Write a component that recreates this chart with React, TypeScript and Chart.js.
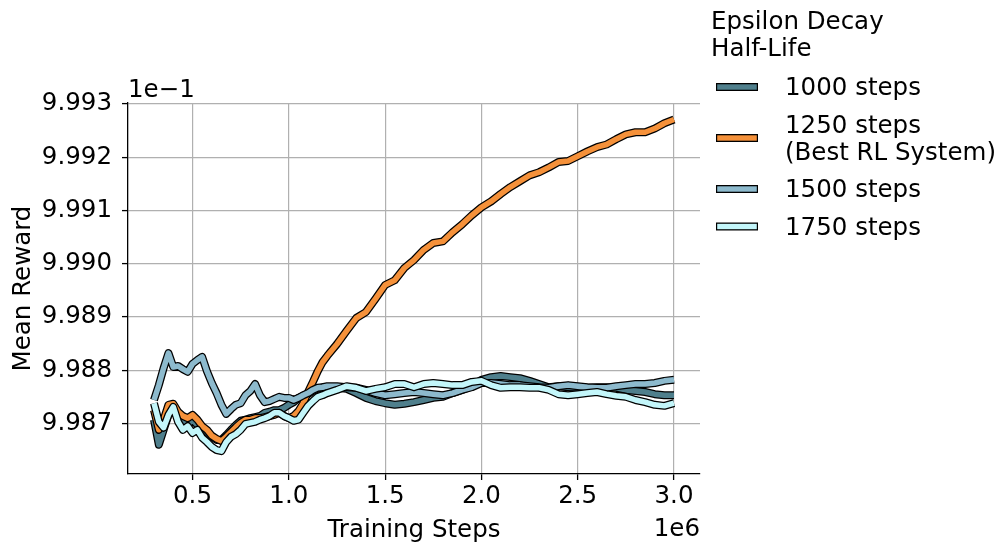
import React, { useEffect, useRef } from "react";
import { Chart, registerables } from "chart.js";

Chart.register(...registerables);

// Training steps (units of 1e6)
const steps = [
  0.300, 0.325, 0.350, 0.375, 0.400, 0.425, 0.450, 0.475, 0.500, 0.525,
  0.550, 0.575, 0.600, 0.625, 0.650, 0.675, 0.700, 0.725, 0.750, 0.775,
  0.800, 0.825, 0.850, 0.875, 0.900, 0.925, 0.950, 0.975, 1.000, 1.025,
  1.050, 1.075, 1.100, 1.125, 1.150, 1.175, 1.200,
  1.25, 1.30, 1.35, 1.40, 1.45, 1.50, 1.55, 1.60, 1.65, 1.70,
  1.75, 1.80, 1.85, 1.90, 1.95, 2.00, 2.05, 2.10, 2.15, 2.20,
  2.25, 2.30, 2.35, 2.40, 2.45, 2.50, 2.55, 2.60, 2.65, 2.70,
  2.75, 2.80, 2.85, 2.90, 2.95, 3.00,
];

// Mean reward (units of 1e-1)
const reward1000 = [
  9.98707, 9.98660, 9.98688, 9.98716, 9.98729, 9.98710, 9.98707, 9.98697, 9.98707, 9.98697,
  9.98692, 9.98684, 9.98675, 9.98669, 9.98669, 9.98678, 9.98688, 9.98697, 9.98705, 9.98707,
  9.98710, 9.98712, 9.98714, 9.98720, 9.98722, 9.98725, 9.98725, 9.98729, 9.98735, 9.98740,
  9.98748, 9.98752, 9.98755, 9.98761, 9.98765, 9.98768, 9.98768,
  9.98767, 9.98765, 9.98757, 9.98748, 9.98742, 9.98738, 9.98735, 9.98737, 9.98740, 9.98744,
  9.98748, 9.98750, 9.98757, 9.98763, 9.98770, 9.98782, 9.98787, 9.98789, 9.98787, 9.98785,
  9.98780, 9.98774, 9.98768, 9.98770, 9.98768, 9.98767, 9.98767, 9.98768, 9.98768, 9.98767,
  9.98763, 9.98761, 9.98759, 9.98755, 9.98753, 9.98753,
];

const reward1250 = [
  9.98725, 9.98688, 9.98707, 9.98735, 9.98737, 9.98722, 9.98714, 9.98710, 9.98716, 9.98707,
  9.98695, 9.98688, 9.98677, 9.98671, 9.98667, 9.98675, 9.98684, 9.98693, 9.98701, 9.98707,
  9.98707, 9.98710, 9.98710, 9.98712, 9.98714, 9.98716, 9.98720, 9.98714, 9.98710, 9.98714,
  9.98723, 9.98738, 9.98759, 9.98778, 9.98798, 9.98815, 9.98827,
  9.98849, 9.98874, 9.98898, 9.98909, 9.98934, 9.98960, 9.98969, 9.98992, 9.99007, 9.99026,
  9.99039, 9.99042, 9.99059, 9.99074, 9.99091, 9.99106, 9.99117, 9.99131, 9.99144, 9.99155,
  9.99166, 9.99172, 9.99181, 9.99191, 9.99193, 9.99202, 9.99211, 9.99219, 9.99224, 9.99234,
  9.99243, 9.99247, 9.99247, 9.99254, 9.99264, 9.99271,
];

const reward1500 = [
  9.98744, 9.98772, 9.98804, 9.98832, 9.98806, 9.98808, 9.98802, 9.98797, 9.98812, 9.98819,
  9.98825, 9.98798, 9.98776, 9.98757, 9.98735, 9.98718, 9.98727, 9.98735, 9.98738, 9.98753,
  9.98761, 9.98774, 9.98753, 9.98740, 9.98742, 9.98746, 9.98750, 9.98748, 9.98748, 9.98744,
  9.98748, 9.98753, 9.98757, 9.98763, 9.98767, 9.98768, 9.98770,
  9.98770, 9.98768, 9.98767, 9.98763, 9.98757, 9.98753, 9.98755, 9.98757, 9.98759, 9.98757,
  9.98755, 9.98753, 9.98757, 9.98763, 9.98768, 9.98776, 9.98776, 9.98774, 9.98772, 9.98772,
  9.98770, 9.98768, 9.98767, 9.98770, 9.98772, 9.98770, 9.98768, 9.98767, 9.98767, 9.98770,
  9.98772, 9.98774, 9.98774, 9.98776, 9.98780, 9.98782,
];

const reward1750 = [
  9.98738, 9.98703, 9.98692, 9.98716, 9.98731, 9.98703, 9.98688, 9.98695, 9.98682, 9.98688,
  9.98673, 9.98665, 9.98656, 9.98650, 9.98648, 9.98665, 9.98675, 9.98680, 9.98688, 9.98699,
  9.98701, 9.98703, 9.98707, 9.98710, 9.98714, 9.98720, 9.98720, 9.98714, 9.98710, 9.98705,
  9.98707, 9.98720, 9.98733, 9.98742, 9.98750, 9.98753, 9.98757,
  9.98763, 9.98770, 9.98767, 9.98761, 9.98765, 9.98768, 9.98774, 9.98774, 9.98768, 9.98774,
  9.98776, 9.98774, 9.98772, 9.98772, 9.98778, 9.98780, 9.98772, 9.98767, 9.98768, 9.98768,
  9.98767, 9.98767, 9.98763, 9.98755, 9.98753, 9.98755, 9.98757, 9.98759, 9.98755, 9.98752,
  9.98750, 9.98744, 9.98740, 9.98735, 9.98733, 9.98738,
];

const seriesLabels = [["1000 steps"], ["1250 steps", "(Best RL System)"], ["1500 steps"], ["1750 steps"]];
const seriesColors = ["#4f7f8c", "#f5913a", "#8dbacd", "#c3f6fa"];
const legendTitle = ["Epsilon Decay", "Half-Life"];
const yTicks = [9.987, 9.988, 9.989, 9.99, 9.991, 9.992, 9.993];
const xTicks = [0.5, 1.0, 1.5, 2.0, 2.5, 3.0];
const xTitle = "Training Steps";
const yTitle = "Mean Reward";
const xOffsetText = "1e6";
const yOffsetText = "1e\u22121";

const FONT = '"DejaVu Sans"';
const FS = 24.5;

export default function App() {
  const ref = useRef<HTMLCanvasElement | null>(null);

  useEffect(() => {
    if (!ref.current) return;
    Chart.defaults.font.family = FONT;
    Chart.defaults.color = "#000";
    const series = [reward1000, reward1250, reward1500, reward1750];
    const datasets: any[] = [];
    series.forEach((vals, i) => {
      const data = steps.map((x, j) => ({ x, y: vals[j] }));
      const common = {
        data,
        pointRadius: 0,
        pointHoverRadius: 0,
        tension: 0,
        borderJoinStyle: "round",
        borderCapStyle: "butt",
        fill: false,
      };
      datasets.push({ ...common, label: "outline" + i, borderColor: "#000", borderWidth: 8, order: 100 - i * 2 });
      datasets.push({ ...common, label: seriesLabels[i].join(" "), borderColor: seriesColors[i], borderWidth: 5.5, order: 99 - i * 2 });
    });

    const extras = {
      id: "extras",
      afterDraw(chart: any) {
        const { ctx, chartArea } = chart;
        ctx.save();
        ctx.fillStyle = "#000";
        ctx.font = `${FS}px ${FONT}`;
        ctx.textBaseline = "alphabetic";
        ctx.textAlign = "center";
        ctx.fillText(xTitle, (chartArea.left + chartArea.right) / 2, 537);
        ctx.textAlign = "right";
        ctx.fillText(xOffsetText, chartArea.right, 536);
        ctx.textAlign = "left";
        ctx.fillText(yOffsetText, chartArea.left, 97);
        ctx.save();
        ctx.translate(30, (chartArea.top + chartArea.bottom) / 2);
        ctx.rotate(-Math.PI / 2);
        ctx.textAlign = "center";
        ctx.fillText(yTitle, 0, 0);
        ctx.restore();

        // legend
        const lx = 711;
        const tx = 785;
        const lineH = 27;
        ctx.textAlign = "left";
        legendTitle.forEach((t, k) => ctx.fillText(t, lx, 29 + k * lineH));
        let base = 95;
        seriesLabels.forEach((lines, i) => {
          lines.forEach((t, k) => ctx.fillText(t, tx, base + k * lineH));
          const last = base + (lines.length - 1) * lineH;
          const hy = base + ((lines.length - 1) * lineH) / 2 - 8;
          ctx.fillStyle = "#000";
          ctx.fillRect(716, hy - 4, 42, 8);
          ctx.fillStyle = seriesColors[i];
          ctx.fillRect(717.2, hy - 2.7, 39.6, 5.4);
          ctx.fillStyle = "#000";
          base = last + 37.5;
        });
        ctx.restore();
      },
    };

    const gridCommon = {
      color: "#b0b0b0",
      lineWidth: 1.2,
      tickColor: "#000",
      tickLength: 6,
      tickWidth: 1.3,
      drawTicks: true,
    };

    const chart = new Chart(ref.current, {
      type: "line",
      data: { datasets },
      options: {
        animation: false,
        responsive: false,
        devicePixelRatio: 1,
        events: [],
        layout: { padding: { left: 0, right: 303, top: 103, bottom: 0 } },
        plugins: { legend: { display: false }, tooltip: { enabled: false }, title: { display: false } },
        scales: {
          x: {
            type: "linear",
            min: 0.165,
            max: 3.135,
            afterBuildTicks: (s: any) => {
              s.ticks = xTicks.map((v) => ({ value: v }));
            },
            afterFit: (s: any) => {
              s.height = 69;
            },
            grid: gridCommon,
            border: { color: "#000", width: 1.3 },
            ticks: {
              font: { size: FS, family: FONT },
              color: "#000",
              padding: 2,
              maxRotation: 0,
              autoSkip: false,
              callback: (v: any) => Number(v).toFixed(1),
            },
          },
          y: {
            type: "linear",
            min: 9.98605,
            max: 9.99302,
            afterBuildTicks: (s: any) => {
              s.ticks = yTicks.map((v) => ({ value: v }));
            },
            afterFit: (s: any) => {
              s.width = 128;
            },
            grid: gridCommon,
            border: { color: "#000", width: 1.3 },
            ticks: {
              font: { size: FS, family: FONT },
              color: "#000",
              padding: 10,
              autoSkip: false,
              callback: (v: any) => Number(v).toFixed(3),
            },
          },
        },
      },
      plugins: [extras],
    } as any);

    return () => chart.destroy();
  }, []);

  return (
    <div style={{ position: "absolute", left: 0, top: 0, width: 1003, height: 543, background: "#fff" }}>
      <canvas ref={ref} width={1003} height={543} style={{ display: "block", width: 1003, height: 543 }} />
    </div>
  );
}
